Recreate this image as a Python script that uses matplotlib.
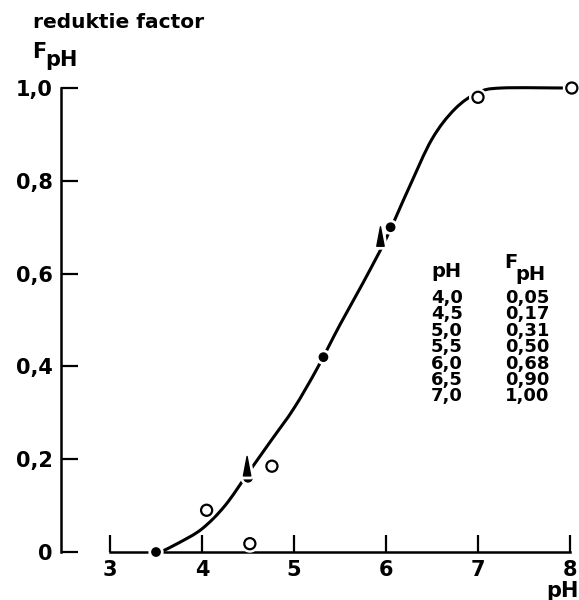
import matplotlib
matplotlib.use("Agg")
import matplotlib.pyplot as plt
import matplotlib.patheffects as pe
from matplotlib.path import Path
from matplotlib.patches import PathPatch

# curve of the reduction factor
curve_ph = [3.55, 3.75, 4.0, 4.25, 4.5, 4.75, 5.0, 5.25, 5.5, 5.75, 6.0, 6.25, 6.5, 6.75, 7.0, 7.25, 7.95]
curve_f = [0.0, 0.02, 0.05, 0.10, 0.17, 0.24, 0.31, 0.395, 0.49, 0.58, 0.675, 0.785, 0.89, 0.955, 0.99, 1.0, 1.0]

# measured points
dot_ph = [3.5, 4.5, 5.32, 6.05]
dot_f = [0.0, 0.16, 0.42, 0.70]
tri_ph = [4.49, 5.94]
tri_f = [0.185, 0.68]
open_ph = [4.05, 4.52, 4.76, 7.0, 8.02]
open_f = [0.09, 0.018, 0.185, 0.98, 1.0]

# table in the plot
table_ph = ["4,0", "4,5", "5,0", "5,5", "6,0", "6,5", "7,0"]
table_f = ["0,05", "0,17", "0,31", "0,50", "0,68", "0,90", "1,00"]

xticks = [3, 4, 5, 6, 7, 8]
yticks = [0, 0.2, 0.4, 0.6, 0.8, 1.0]
ylabels = ["0", "0,2", "0,4", "0,6", "0,8", "1,0"]

W, H = 579, 600
plt.rcParams['font.family'] = ['DejaVu Sans']
plt.rcParams['font.weight'] = 'bold'
fs = 15


def smooth_path(xs, ys):
    # catmull-rom through the points, handed to matplotlib as bezier segments
    verts = [(xs[0], ys[0])]
    codes = [Path.MOVETO]
    n = len(xs)
    for i in range(n - 1):
        x0, y0 = (xs[i - 1], ys[i - 1]) if i > 0 else (xs[i], ys[i])
        x1, y1 = xs[i], ys[i]
        x2, y2 = xs[i + 1], ys[i + 1]
        x3, y3 = (xs[i + 2], ys[i + 2]) if i + 2 < n else (x2, y2)
        verts += [(x1 + (x2 - x0) / 6, y1 + (y2 - y0) / 6),
                  (x2 - (x3 - x1) / 6, y2 - (y3 - y1) / 6),
                  (x2, y2)]
        codes += [Path.CURVE4] * 3
    return Path(verts, codes)


fig = plt.figure(figsize=(W / 100, H / 100), dpi=100)
ax = fig.add_axes([0, 0, 1, 1])
ax.set_xlim(1.804, 8.098)
ax.set_ylim(-0.1034, 1.1897)

for s in ['top', 'right']:
    ax.spines[s].set_visible(False)
ax.spines['left'].set_position(('data', 2.47))
ax.spines['left'].set_bounds(0, 1.0)
ax.spines['bottom'].set_position(('data', 0))
ax.spines['bottom'].set_bounds(3, 8)
for s in ['left', 'bottom']:
    ax.spines[s].set_linewidth(1.8)

ax.set_xticks(xticks)
ax.set_xticklabels([str(t) for t in xticks])
ax.set_yticks(yticks)
ax.set_yticklabels(ylabels)
ax.tick_params(direction='in', length=12, width=1.6, labelsize=fs, pad=6)

halo = [pe.Stroke(linewidth=5, foreground='white'), pe.Normal()]

ax.add_patch(PathPatch(smooth_path(curve_ph, curve_f), fc='none', ec='black', lw=2.2,
                       capstyle='round', zorder=3))

tri = Path([(0, 1), (-0.38, -1), (0.38, -1), (0, 1)],
           [Path.MOVETO, Path.LINETO, Path.LINETO, Path.CLOSEPOLY])
ax.plot(dot_ph, dot_f, 'o', color='black', ms=6, ls='none', zorder=4, path_effects=halo)
ax.plot(tri_ph, tri_f, ls='none', marker=tri, color='black', ms=14, zorder=5, path_effects=halo)
ax.plot(open_ph, open_f, 'o', mfc='white', mec='black', mew=1.6, ms=8, ls='none', zorder=4,
        clip_on=False, path_effects=halo)


def put(px, py, s, **kw):
    ax.text(px / W, 1 - py / H, s, transform=ax.transAxes, fontsize=kw.pop('size', fs), **kw)


put(33, 28, "reduktie factor", va='baseline', ha='left', size=14.5)
put(32, 58, "F", va='baseline', ha='left')
put(45, 66, "pH", va='baseline', ha='left')
put(562, 597, "pH", va='baseline', ha='center')

put(431, 277, "pH", va='baseline', ha='left', size=14)
put(504, 268, "F", va='baseline', ha='left', size=14)
put(515, 280, "pH", va='baseline', ha='left', size=14)
for i, (a, b) in enumerate(zip(table_ph, table_f)):
    y = 303 + 16.4 * i
    put(431, y, a, va='baseline', ha='left', size=13)
    put(505, y, b, va='baseline', ha='left', size=13)

fig.savefig("out.png", dpi=100)
